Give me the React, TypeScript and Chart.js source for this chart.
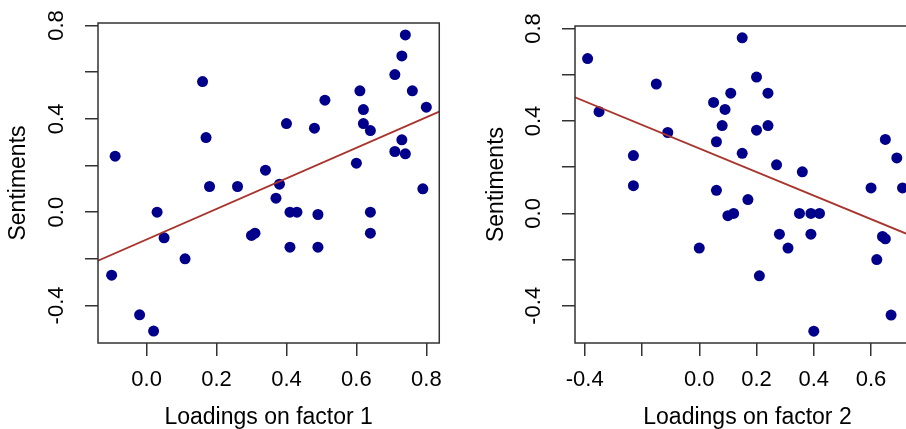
import React, { useEffect, useRef } from 'react';
import { Chart, registerables } from 'chart.js';

Chart.register(...registerables);

// ---- Data ----
const LOAD_F1 = [-0.09, 0.03, 0.16, 0.17, 0.18, 0.26, 0.34, 0.38, 0.37, 0.40, 0.41, 0.43, 0.48, 0.49, 0.51, 0.60, 0.61, 0.62, 0.62, 0.64, 0.64, 0.71, 0.73, 0.74, 0.76, 0.80, 0.73, 0.71, 0.74, 0.79, 0.05, 0.11, -0.10, -0.02, 0.02, 0.30, 0.31, 0.41, 0.49, 0.64];
const SENT_F1 = [0.24, 0.00, 0.56, 0.32, 0.11, 0.11, 0.18, 0.12, 0.06, 0.38, 0.00, 0.00, 0.36, -0.01, 0.48, 0.21, 0.52, 0.44, 0.38, 0.35, 0.00, 0.59, 0.67, 0.76, 0.52, 0.45, 0.31, 0.26, 0.25, 0.10, -0.11, -0.20, -0.27, -0.44, -0.51, -0.10, -0.09, -0.15, -0.15, -0.09];

const LOAD_F2 = [-0.39, -0.35, -0.23, -0.23, -0.15, -0.11, 0.05, 0.09, 0.11, 0.08, 0.06, 0.15, 0.15, 0.20, 0.20, 0.24, 0.24, 0.27, 0.06, 0.17, 0.36, 0.60, 0.65, 0.69, 0.71, 0.10, 0.12, 0.35, 0.39, 0.42, 0.00, 0.28, 0.31, 0.39, 0.21, 0.40, 0.62, 0.64, 0.65, 0.67];
const SENT_F2 = [0.67, 0.44, 0.25, 0.12, 0.56, 0.35, 0.48, 0.45, 0.52, 0.38, 0.31, 0.76, 0.26, 0.59, 0.36, 0.52, 0.38, 0.21, 0.10, 0.06, 0.18, 0.11, 0.32, 0.24, 0.11, -0.01, 0.00, 0.00, 0.00, 0.00, -0.15, -0.09, -0.15, -0.09, -0.27, -0.51, -0.20, -0.10, -0.11, -0.44];

// fitted regression lines (intercept, slope)
const FIT1_INTERCEPT = -0.117;
const FIT1_SLOPE = 0.655;
const FIT2_INTERCEPT = 0.281;
const FIT2_SLOPE = -0.51;

// axes
const Y_RANGE = [-0.561, 0.811];
const Y_TICKS = [-0.4, -0.2, 0, 0.2, 0.4, 0.6, 0.8];
const Y_TICK_LABELS = ['-0.4', '', '0.0', '', '0.4', '', '0.8'];
const X1_RANGE = [-0.139, 0.837];
const X1_TICKS = [0, 0.2, 0.4, 0.6, 0.8];
const X1_TICK_LABELS = ['0.0', '0.2', '0.4', '0.6', '0.8'];
const X2_RANGE = [-0.434, 0.771];
const X2_TICKS = [-0.4, -0.2, 0, 0.2, 0.4, 0.6];
const X2_TICK_LABELS = ['-0.4', '', '0.0', '0.2', '0.4', '0.6'];

const Y_TITLE = 'Sentiments';
const X1_TITLE = 'Loadings on factor 1';
const X2_TITLE = 'Loadings on factor 2';

const FONT = 'Liberation Sans, Arial, Helvetica, sans-serif';
const AXIS_COLOR = '#333333';
const POINT_COLOR = '#00008B';
const LINE_COLOR = '#A8342C';

const boxPlugin = {
  id: 'rbox',
  afterDatasetsDraw(chart: any) {
    const { ctx, chartArea: a } = chart;
    ctx.save();
    ctx.strokeStyle = AXIS_COLOR;
    ctx.lineWidth = 1.5;
    ctx.strokeRect(a.left, a.top, a.right - a.left, a.bottom - a.top);
    ctx.restore();
  },
};

type PanelProps = {
  xs: number[];
  ys: number[];
  intercept: number;
  slope: number;
  xRange: number[];
  xTicks: number[];
  xTickLabels: string[];
  xTitle: string;
  left: number;
  width: number;
  yAxisWidth: number;
  padTop: number;
  padRight: number;
  yTitlePad: number;
};

function Panel(p: PanelProps) {
  const ref = useRef<HTMLCanvasElement>(null);
  useEffect(() => {
    if (!ref.current) return;
    const points = p.xs.map((x, i) => ({ x, y: p.ys[i] }));
    const line = [p.xRange[0], p.xRange[1]].map((x) => ({ x, y: p.intercept + p.slope * x }));
    const chart = new Chart(ref.current, {
      type: 'scatter',
      data: {
        datasets: [
          {
            data: line,
            showLine: true,
            borderColor: LINE_COLOR,
            borderWidth: 1.8,
            pointRadius: 0,
            fill: false,
          } as any,
          {
            data: points,
            backgroundColor: POINT_COLOR,
            borderWidth: 0,
            pointRadius: 5.5,
          },
        ],
      },
      options: {
        animation: false,
        responsive: false,
        devicePixelRatio: 1,
        events: [],
        layout: { padding: { top: p.padTop, right: p.padRight, left: 0, bottom: 0 } },
        plugins: { legend: { display: false }, tooltip: { enabled: false } },
        scales: {
          x: {
            type: 'linear',
            min: p.xRange[0],
            max: p.xRange[1],
            bounds: 'data',
            afterBuildTicks: (s: any) => {
              s.ticks = p.xTicks.map((v) => ({ value: v }));
            },
            afterFit: (s: any) => {
              s.height = 86;
            },
            ticks: {
              autoSkip: false,
              maxRotation: 0,
              minRotation: 0,
              padding: 11,
              color: '#000',
              font: { family: FONT, size: 22 },
              callback: (_v: any, i: number) => p.xTickLabels[i],
            },
            grid: { drawOnChartArea: false, drawTicks: true, tickLength: 13, color: AXIS_COLOR, lineWidth: 1.5 },
            border: { display: false },
            title: {
              display: true,
              text: p.xTitle,
              color: '#000',
              font: { family: FONT, size: 23, lineHeight: 1 },
              padding: { top: 0, bottom: 0 },
            },
          },
          y: {
            type: 'linear',
            min: Y_RANGE[0],
            max: Y_RANGE[1],
            bounds: 'data',
            afterBuildTicks: (s: any) => {
              s.ticks = Y_TICKS.map((v) => ({ value: v }));
            },
            afterFit: (s: any) => {
              s.width = p.yAxisWidth;
            },
            ticks: {
              autoSkip: false,
              minRotation: 90,
              maxRotation: 90,
              crossAlign: 'center',
              padding: 9,
              color: '#000',
              font: { family: FONT, size: 22 },
              callback: (_v: any, i: number) => Y_TICK_LABELS[i],
            },
            grid: { drawOnChartArea: false, drawTicks: true, tickLength: 13, color: AXIS_COLOR, lineWidth: 1.5 },
            border: { display: false },
            title: {
              display: true,
              text: Y_TITLE,
              color: '#000',
              font: { family: FONT, size: 23 },
              padding: { top: p.yTitlePad, bottom: 0 },
            },
          },
        },
      },
      plugins: [boxPlugin],
    } as any);
    return () => chart.destroy();
  }, []);
  return (
    <canvas
      ref={ref}
      width={p.width}
      height={429}
      style={{ position: 'absolute', left: p.left, top: 0, width: p.width, height: 429 }}
    />
  );
}

export default function App() {
  return (
    <div
      style={{
        position: 'fixed',
        left: 0,
        top: 0,
        width: 906,
        height: 429,
        overflow: 'hidden',
        background: '#fff',
      }}
    >
      <Panel
        xs={LOAD_F1}
        ys={SENT_F1}
        intercept={FIT1_INTERCEPT}
        slope={FIT1_SLOPE}
        xRange={X1_RANGE}
        xTicks={X1_TICKS}
        xTickLabels={X1_TICK_LABELS}
        xTitle={X1_TITLE}
        left={0}
        width={453}
        yAxisWidth={98}
        padTop={23}
        padRight={10}
        yTitlePad={4.7}
      />
      <Panel
        xs={LOAD_F2}
        ys={SENT_F2}
        intercept={FIT2_INTERCEPT}
        slope={FIT2_SLOPE}
        xRange={X2_RANGE}
        xTicks={X2_TICKS}
        xTickLabels={X2_TICK_LABELS}
        xTitle={X2_TITLE}
        left={453}
        width={477}
        yAxisWidth={122}
        padTop={26}
        padRight={10}
        yTitlePad={29.7}
      />
    </div>
  );
}
